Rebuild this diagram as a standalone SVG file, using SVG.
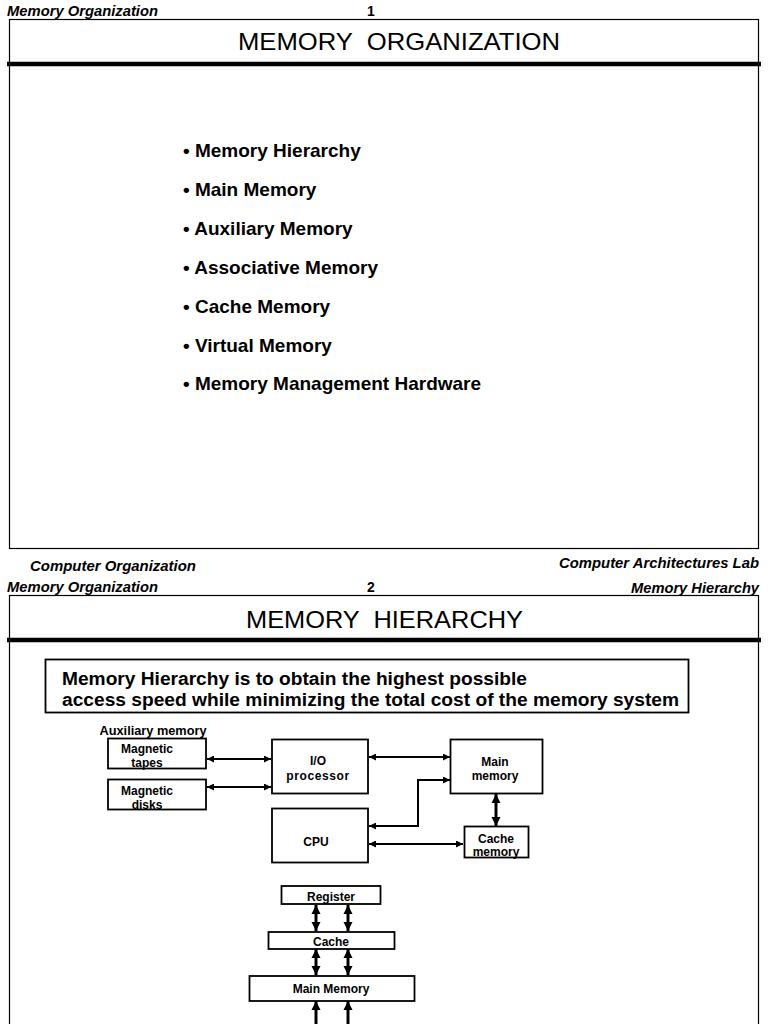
<svg xmlns="http://www.w3.org/2000/svg" width="768" height="1024" viewBox="0 0 768 1024">
<defs>
<style>
.hdr{font-family:"Liberation Sans",Arial,sans-serif;font-weight:bold;font-style:italic;font-size:14px;fill:#000}
.num{font-family:"Liberation Sans",Arial,sans-serif;font-weight:bold;font-size:14px;fill:#000}
.title{font-family:"Liberation Sans",Arial,sans-serif;font-size:24px;fill:#000;white-space:pre}
.bul{font-family:"Liberation Sans",Arial,sans-serif;font-weight:bold;font-size:19px;fill:#000}
.intro{font-family:"Liberation Sans",Arial,sans-serif;font-weight:bold;font-size:18px;fill:#000}
.lbl{font-family:"Liberation Sans",Arial,sans-serif;font-weight:bold;font-size:12px;fill:#000;text-anchor:middle}
.frame{fill:none;stroke:#000;stroke-width:1.2}
.bar{stroke:#000;stroke-width:4.5}
.box{fill:#fff;stroke:#000;stroke-width:1.8}
.conn{fill:none;stroke:#000;stroke-width:2}
.vconn{fill:none;stroke:#000;stroke-width:3}
</style>
<marker id="ah" viewBox="0 0 10 10" refX="10" refY="5" markerWidth="9" markerHeight="7" markerUnits="userSpaceOnUse" orient="auto-start-reverse">
<path d="M0,0 L10,5 L0,10 z" fill="#000"/>
</marker>
<marker id="ahv" viewBox="0 0 10 10" refX="10" refY="5" markerWidth="9" markerHeight="10" markerUnits="userSpaceOnUse" orient="auto-start-reverse">
<path d="M0,0 L10,5 L0,10 z" fill="#000"/>
</marker>
</defs>
<rect width="768" height="1024" fill="#fff"/>

<!-- Slide 1 -->
<g id="slide1">
<text class="hdr" x="7" y="16" textLength="151" lengthAdjust="spacingAndGlyphs">Memory Organization</text>
<text class="num" x="371" y="16" text-anchor="middle">1</text>
<rect class="frame" x="9.5" y="19.5" width="749" height="529"/>
<line class="bar" x1="7" y1="64" x2="761" y2="64"/>
<text class="title" x="238" y="50" textLength="322" lengthAdjust="spacingAndGlyphs" xml:space="preserve">MEMORY  ORGANIZATION</text>
<g id="bullets">
<text class="bul" x="183" y="157">• Memory Hierarchy</text>
<text class="bul" x="183" y="196">• Main Memory</text>
<text class="bul" x="183" y="235">• Auxiliary Memory</text>
<text class="bul" x="183" y="274">• Associative Memory</text>
<text class="bul" x="183" y="313">• Cache Memory</text>
<text class="bul" x="183" y="352">• Virtual Memory</text>
<text class="bul" x="183" y="390">• Memory Management Hardware</text>
</g>
<text class="hdr" x="30" y="571" textLength="166" lengthAdjust="spacingAndGlyphs">Computer Organization</text>
<text class="hdr" x="759" y="568" text-anchor="end" textLength="200" lengthAdjust="spacingAndGlyphs">Computer Architectures Lab</text>
</g>

<!-- Slide 2 -->
<g id="slide2">
<text class="hdr" x="7" y="592" textLength="151" lengthAdjust="spacingAndGlyphs">Memory Organization</text>
<text class="num" x="371" y="592" text-anchor="middle">2</text>
<text class="hdr" x="759" y="593" text-anchor="end" textLength="128" lengthAdjust="spacingAndGlyphs">Memory Hierarchy</text>
<rect class="frame" x="9.5" y="595.5" width="749" height="440"/>
<line class="bar" x1="7" y1="640" x2="761" y2="640"/>
<text class="title" x="246" y="628" textLength="277" lengthAdjust="spacingAndGlyphs" xml:space="preserve">MEMORY  HIERARCHY</text>
<g id="intro">
<rect x="45.5" y="659.5" width="643" height="53" fill="#fff" stroke="#000" stroke-width="1.8"/>
<text class="intro" x="62" y="685" textLength="465" lengthAdjust="spacingAndGlyphs">Memory Hierarchy is to obtain the highest possible</text>
<text class="intro" x="62" y="706" textLength="617" lengthAdjust="spacingAndGlyphs">access speed while minimizing the total cost of the memory system</text>
</g>
</g>

<!-- Connectors -->
<g id="connectors">
<line class="conn" x1="207" y1="759" x2="271" y2="759" stroke-width="2.6" marker-start="url(#ah)" marker-end="url(#ah)"/>
<line class="conn" x1="207" y1="787" x2="271" y2="787" marker-start="url(#ah)" marker-end="url(#ah)"/>
<line class="conn" x1="369" y1="757" x2="450" y2="757" marker-start="url(#ah)" marker-end="url(#ah)"/>
<polyline class="conn" points="369,826 418,826 418,780 450,780" marker-start="url(#ah)" marker-end="url(#ah)"/>
<line class="conn" x1="369" y1="844" x2="463" y2="844" marker-start="url(#ah)" marker-end="url(#ah)"/>
<line class="vconn" x1="496" y1="794" x2="496" y2="826" marker-start="url(#ahv)" marker-end="url(#ahv)"/>
<line class="vconn" x1="316" y1="905" x2="316" y2="931" marker-start="url(#ahv)" marker-end="url(#ahv)"/>
<line class="vconn" x1="348" y1="905" x2="348" y2="931" marker-start="url(#ahv)" marker-end="url(#ahv)"/>
<line class="vconn" x1="316" y1="949" x2="316" y2="975" marker-start="url(#ahv)" marker-end="url(#ahv)"/>
<line class="vconn" x1="348" y1="949" x2="348" y2="975" marker-start="url(#ahv)" marker-end="url(#ahv)"/>
<line class="vconn" x1="316" y1="1001" x2="316" y2="1030" marker-start="url(#ahv)"/>
<line class="vconn" x1="348" y1="1001" x2="348" y2="1030" marker-start="url(#ahv)"/>
</g>

<!-- Nodes -->
<text class="lbl" x="153" y="735" textLength="107" lengthAdjust="spacingAndGlyphs">Auxiliary memory</text>
<g id="tapes">
<rect class="box" x="108" y="738.5" width="98" height="30" fill="none"/>
<text class="lbl" x="147" y="753">Magnetic</text>
<text class="lbl" x="147" y="767">tapes</text>
</g>
<g id="disks">
<rect class="box" x="108" y="779.5" width="98" height="30" fill="none"/>
<text class="lbl" x="147" y="795">Magnetic</text>
<text class="lbl" x="147" y="809">disks</text>
</g>
<g id="io">
<rect class="box" x="272" y="739.5" width="96" height="54"/>
<text class="lbl" x="318" y="765">I/O</text>
<text class="lbl" x="318" y="780" letter-spacing="0.6">processor</text>
</g>
<g id="cpu">
<rect class="box" x="272" y="808.5" width="96" height="54"/>
<text class="lbl" x="316" y="846">CPU</text>
</g>
<g id="mainmem">
<rect class="box" x="450.5" y="739.5" width="92" height="54"/>
<text class="lbl" x="495" y="766">Main</text>
<text class="lbl" x="495" y="780">memory</text>
</g>
<g id="cachemem">
<rect class="box" x="464.5" y="826.5" width="64" height="31"/>
<text class="lbl" x="496" y="843">Cache</text>
<text class="lbl" x="496" y="856">memory</text>
</g>
<g id="register">
<rect class="box" x="281.5" y="886" width="99" height="18"/>
<text class="lbl" x="331" y="901">Register</text>
</g>
<g id="cache">
<rect class="box" x="268.5" y="932" width="126" height="17"/>
<text class="lbl" x="331" y="946">Cache</text>
</g>
<g id="mainmemory">
<rect class="box" x="249.5" y="976" width="165" height="25"/>
<text class="lbl" x="331" y="993">Main Memory</text>
</g>
</svg>
